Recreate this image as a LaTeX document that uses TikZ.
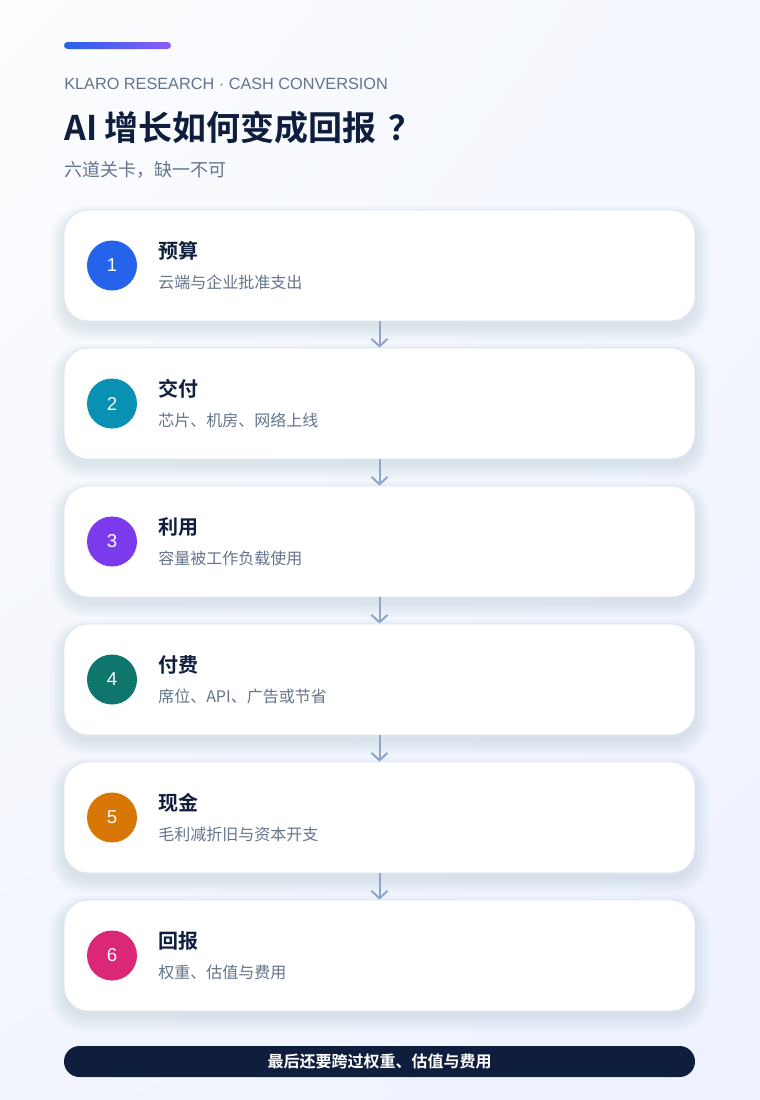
\documentclass[tikz,border=0pt]{standalone}
\usepackage{fontspec}
\setmainfont{Noto Sans CJK SC}[BoldFont={Noto Sans CJK SC Bold}]
\newfontfamily\latin{Liberation Sans}
\usepackage{tikz}
\usetikzlibrary{positioning,calc,arrows.meta,shadings}

\definecolor{ink}{HTML}{0F1E3D}
\definecolor{muted}{HTML}{64748B}
\definecolor{edge}{HTML}{DCE4F2}
\definecolor{flow}{HTML}{8FA6C9}
\definecolor{cA}{HTML}{2563EB}
\definecolor{cB}{HTML}{0891B2}
\definecolor{cC}{HTML}{7C3AED}
\definecolor{cD}{HTML}{0F766E}
\definecolor{cE}{HTML}{D97706}
\definecolor{cF}{HTML}{DB2777}
\definecolor{accmid}{HTML}{06B6D4}
\definecolor{accend}{HTML}{8B5CF6}
\definecolor{bgTL}{HTML}{FCFDFE}
\definecolor{bgTR}{HTML}{F4F7FE}
\definecolor{bgBL}{HTML}{F2F5FD}
\definecolor{bgBR}{HTML}{EDF2FE}
\definecolor{shadowcol}{HTML}{3A5590}

\begin{document}
\begin{tikzpicture}[x=0.75pt,y=-0.75pt,
    card/.style={draw=edge, line width=0.6pt, fill=white, rounded corners=18pt,
      minimum width=473.25pt, minimum height=83.25pt, inner sep=0pt},
    haze/.style={fill=shadowcol, opacity=0.011},
    badge/.style={circle, minimum size=37.5pt, inner sep=0pt, text=white,
      font=\latin\fontsize{14}{16}\selectfont},
    head/.style={anchor=west, inner sep=0pt, text=ink, font=\bfseries\fontsize{15}{18}\selectfont},
    sub/.style={anchor=west, inner sep=0pt, text=muted, font=\fontsize{12}{15}\selectfont},
    flowarrow/.style={draw=flow, line width=1.5pt, -{Straight Barb[length=5.5pt,width=12pt]}},
    note/.style={fill=ink, rounded corners=11.6pt, minimum width=473.25pt, minimum height=23.25pt,
      inner sep=0pt, text=white, font=\bfseries\fontsize{12}{14}\selectfont}]

    % background
    \shade[upper left=bgTL, upper right=bgTR, lower left=bgBL, lower right=bgBR]
      (0,0) rectangle (760,1100);
    \useasboundingbox (0,0) rectangle (760,1100);

    % header
    \shade[rounded corners=2.6pt, left color=cA, middle color=accmid, right color=accend] (64,42) rectangle (171,49);
    \node[anchor=west, inner sep=0pt, text=muted, font=\latin\fontsize{12.2}{14}\selectfont] (kicker) at (64,84) {KLARO RESEARCH · CASH CONVERSION};
    \node[anchor=west, inner sep=0pt, text=ink, font=\bfseries\fontsize{25.5}{30}\selectfont] (title) at (64,128) {AI 增长如何变成回报\hspace{0.35em}？};
    \node[anchor=west, inner sep=0pt, text=muted, font=\fontsize{13.5}{16}\selectfont] (subtitle) at (64,170) {六道关卡，缺一不可};

    % six stages
    \foreach \i/\col/\ttl/\txt in {1/cA/预算/云端与企业批准支出, 2/cB/交付/芯片、机房、网络上线,
        3/cC/利用/容量被工作负载使用, 4/cD/付费/席位、API、广告或节省,
        5/cE/现金/毛利减折旧与资本开支, 6/cF/回报/权重、估值与费用} {
      \pgfmathsetmacro{\y}{265.5+138*(\i-1)}
      % soft shadow
      \foreach \k in {0,...,9}
        \fill[haze, rounded corners={18pt+\k*1pt}] (64-\k*1.6,\y-49.5-\k*1.2) rectangle (695+\k*1.6,\y+61.5+\k*1.6);
      \node[card] (card\i) at (379.5,\y) {};
      \node[badge, fill=\col] (num\i) at (112,\y) {\i};
      \node[head] (ttl\i) at (158,\y-15) {\ttl};
      \node[sub] (txt\i) at (158,\y+16.5) {\txt};
    }

    % arrows between stages
    \foreach \i in {1,...,5} {
      \pgfmathtruncatemacro{\j}{\i+1}
      \draw[flowarrow] (card\i.south) -- (card\j.north);
    }

    % footer
    \node[note] (footer) at (379.5,1061.5) {最后还要跨过权重、估值与费用};
\end{tikzpicture}
\end{document}
